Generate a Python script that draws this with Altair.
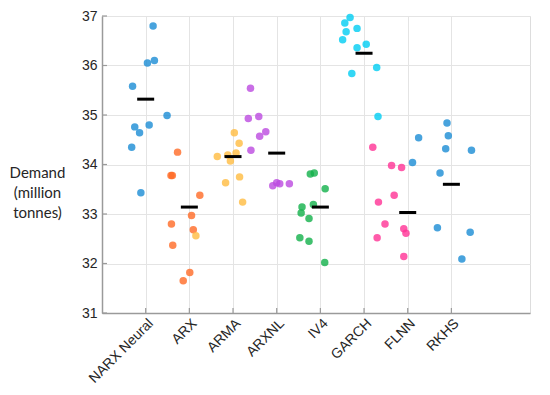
import json
import altair as alt
import pandas as pd

models = ["NARX Neural", "ARX", "ARMA", "ARXNL", "IV4", "GARCH", "FLNN", "RKHS"]
colors = ["#1a8cd4", "#ff6a26", "#ffbb40", "#bb4ae0", "#12b04a", "#00cdf2", "#ff3295", "#1a8cd4"]

narx_vals = [36.80, 36.10, 36.05, 35.58, 34.99, 34.80, 34.76, 34.64, 34.35, 33.43]
narx_jit = [0.17, 0.20, 0.04, -0.30, 0.49, 0.08, -0.25, -0.14, -0.32, -0.11]
arx_vals = [34.25, 33.78, 33.78, 33.38, 32.97, 32.80, 32.68, 32.37, 31.82, 31.65]
arx_jit = [-0.27, -0.42, -0.39, 0.24, 0.05, -0.41, 0.09, -0.38, 0.01, -0.14]
arma_vals = [34.64, 34.43, 34.23, 34.19, 34.16, 34.07, 33.75, 33.63, 33.24, 32.56]
arma_jit = [0.03, 0.14, 0.07, -0.12, -0.36, -0.06, 0.15, -0.17, 0.22, -0.85]
arxnl_vals = [35.54, 34.97, 34.93, 34.66, 34.57, 34.29, 33.63, 33.61, 33.61, 33.57]
arxnl_jit = [-0.60, -0.41, -0.65, -0.25, -0.39, -0.59, 0.00, 0.07, 0.29, -0.09]
iv4_vals = [33.83, 33.81, 33.51, 33.19, 33.14, 33.02, 32.91, 32.52, 32.45, 32.02]
iv4_jit = [-0.14, -0.23, 0.11, -0.16, -0.42, -0.44, -0.26, -0.47, -0.26, 0.10]
garch_vals = [36.97, 36.86, 36.75, 36.68, 36.52, 36.43, 36.36, 35.96, 35.84, 34.97]
garch_jit = [-0.32, -0.44, -0.16, -0.41, -0.49, 0.05, -0.16, 0.29, -0.28, 0.32]
flnn_vals = [34.35, 33.98, 33.94, 33.38, 33.24, 32.80, 32.70, 32.61, 32.52, 32.14]
flnn_jit = [-0.80, -0.37, -0.14, -0.31, -0.67, -0.52, -0.09, -0.04, -0.70, -0.09]
rkhs_vals = [34.84, 34.58, 34.54, 34.32, 34.29, 34.04, 33.83, 32.72, 32.63, 32.09]
rkhs_jit = [-0.10, -0.07, -0.75, -0.13, 0.46, -0.89, -0.26, -0.32, 0.43, 0.24]

mean_vals = [35.32, 33.14, 34.16, 34.23, 33.14, 36.25, 33.03, 33.60]
y_ticks = [31, 32, 33, 34, 35, 36, 37]

series = [narx_vals, arx_vals, arma_vals, arxnl_vals, iv4_vals, garch_vals, flnn_vals, rkhs_vals]
jitters = [narx_jit, arx_jit, arma_jit, arxnl_jit, iv4_jit, garch_jit, flnn_jit, rkhs_jit]

rows = []
for i, (m, vals, jit) in enumerate(zip(models, series, jitters)):
    for v, j in zip(vals, jit):
        rows.append({"model": m, "pos": i + 1 + j, "demand": v})
points_df = pd.DataFrame(rows)
means_df = pd.DataFrame({"model": models, "pos": list(range(1, len(models) + 1)), "demand": mean_vals})
yt_df = pd.DataFrame({"v": y_ticks})
xt_df = pd.DataFrame({"i": list(range(1, len(models) + 1))})

W, H = 428, 297
xscale = alt.Scale(domain=[0, 9.8], nice=False, zero=False)
yscale = alt.Scale(domain=[31, 37], nice=False, zero=False)
label_expr = json.dumps(models).replace('"', "'") + "[datum.value - 1]"

points = alt.Chart(points_df).mark_circle(size=56, opacity=0.8).encode(
    x=alt.X("pos:Q", scale=xscale,
            axis=alt.Axis(values=list(range(1, len(models) + 1)), labelExpr=label_expr,
                          labelAngle=-45, labelAlign="right", labelBaseline="top",
                          labelPadding=3, labelFont="Liberation Sans", labelFontSize=14,
                          labelColor="#262626", labelOverlap=False, labelBound=False,
                          ticks=False, grid=True, gridColor="#e4e4e4",
                          domainColor="#9a9a9a", domainWidth=1.5, title=None)),
    y=alt.Y("demand:Q", scale=yscale,
            axis=alt.Axis(values=y_ticks, labelFont="Liberation Sans", labelFontSize=14,
                          labelColor="#262626", labelPadding=5, ticks=False, grid=True,
                          labelOverlap=False,
                          gridColor="#e4e4e4", domainColor="#9a9a9a", domainWidth=1.5,
                          title=["Demand", "(million", "tonnes)"], titleAngle=0,
                          titleAlign="center", titleBaseline="middle", titleX=-65, titleY=156,
                          titleFont="Lato", titleFontSize=15, titleFontWeight="normal",
                          titleLineHeight=20, titleColor="#262626")),
    color=alt.Color("model:N", scale=alt.Scale(domain=models, range=colors), legend=None),
)

means = alt.Chart(means_df).mark_tick(orient="horizontal", size=17, thickness=3,
                                      color="black", opacity=1).encode(
    x=alt.X("pos:Q", scale=xscale),
    y=alt.Y("demand:Q", scale=yscale),
)

ytick = alt.Chart(yt_df).mark_rule(color="#9a9a9a", strokeWidth=1.2).encode(
    y=alt.Y("v:Q", scale=yscale),
    x=alt.value(0), x2=alt.value(5),
)
xtick = alt.Chart(xt_df).mark_rule(color="#9a9a9a", strokeWidth=1.2).encode(
    x=alt.X("i:Q", scale=xscale),
    y=alt.value(H), y2=alt.value(H - 5),
)

chart = alt.layer(points, means, ytick, xtick).properties(
    width=W, height=H,
    autosize=alt.AutoSizeParams(type="none"),
    padding={"left": 94, "top": 8, "right": 12, "bottom": 74},
).configure_view(strokeWidth=0).configure(background="white")

chart.save("out.html", embed_options={"renderer": "svg", "actions": False})
